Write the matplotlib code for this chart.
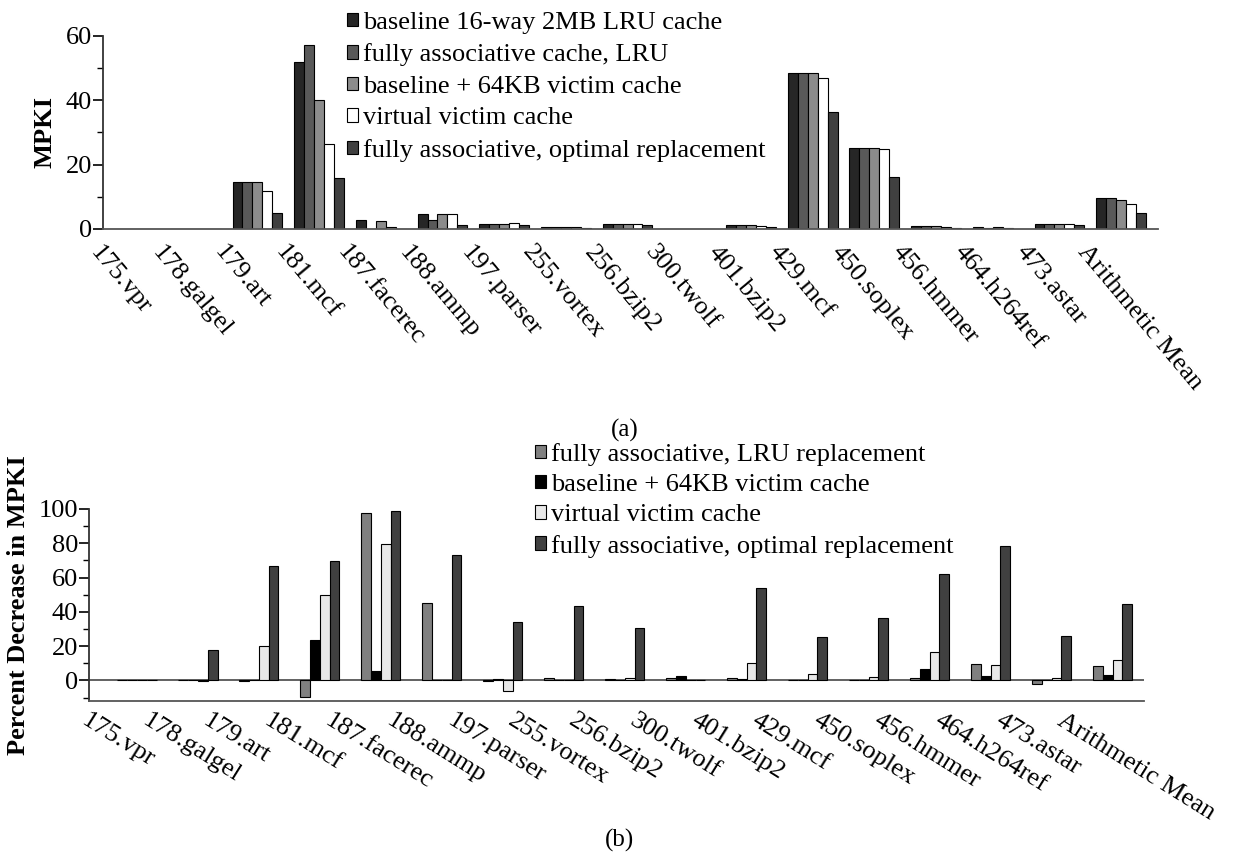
import matplotlib
matplotlib.use('Agg')
import matplotlib.pyplot as plt
import numpy as np

benchmarks = ['175.vpr', '178.galgel', '179.art', '181.mcf', '187.facerec', '188.ammp',
              '197.parser', '255.vortex', '256.bzip2', '300.twolf', '401.bzip2', '429.mcf',
              '450.soplex', '456.hmmer', '464.h264ref', '473.astar', 'Arithmetic Mean']

# (a) misses per kilo-instruction
mpki_baseline = [0.1, 0.12, 14.6, 52.0, 2.7, 4.8, 1.66, 0.52, 1.66, 0.05, 1.14, 48.6, 25.3, 0.83, 0.5, 1.66, 9.76]
mpki_fa_lru = [0.1, 0.12, 14.6, 57.2, 0.07, 2.64, 1.66, 0.51, 1.65, 0.05, 1.13, 48.5, 25.3, 0.82, 0.45, 1.70, 9.76]
mpki_victim = [0.1, 0.12, 14.6, 40.1, 2.55, 4.78, 1.64, 0.52, 1.65, 0.05, 1.13, 48.4, 25.2, 0.78, 0.49, 1.65, 9.0]
mpki_virtual = [0.1, 0.12, 11.7, 26.3, 0.55, 4.8, 1.76, 0.52, 1.64, 0.05, 1.02, 46.9, 24.8, 0.69, 0.45, 1.63, 7.7]
mpki_opt = [0.1, 0.1, 4.9, 16.0, 0.03, 1.3, 1.1, 0.3, 1.15, 0.05, 0.53, 36.3, 16.2, 0.32, 0.11, 1.23, 5.1]

# (b) percent decrease in MPKI vs. baseline
pct_fa_lru = [0, 0, -0.3, -9.9, 97.6, 45.2, -0.2, 1.2, 0.6, 1.3, 1.2, 0.4, 0.1, 1.6, 9.3, -2.3, 8.4]
pct_victim = [0, 0, 0.2, 23.4, 5.5, 0.5, 1.0, 0.3, 0.4, 2.3, 1.0, 0.4, 0.4, 6.6, 2.5, 0.4, 2.9]
pct_virtual = [0, -0.3, 20.3, 49.7, 79.5, 0.3, -6.0, 0.3, 1.4, 0.4, 10.3, 3.5, 1.9, 16.6, 9.0, 1.7, 11.7]
pct_opt = [0, 17.5, 66.6, 69.4, 99.0, 72.9, 33.9, 43.2, 30.6, 0.2, 54.0, 25.3, 36.3, 61.8, 78.6, 25.9, 44.8]

labels_a = ['baseline 16-way 2MB LRU cache', 'fully associative cache, LRU',
            'baseline + 64KB victim cache', 'virtual victim cache',
            'fully associative, optimal replacement']
labels_b = ['fully associative, LRU replacement', 'baseline + 64KB victim cache',
            'virtual victim cache', 'fully associative, optimal replacement']

colors_a = ['#262626', '#595959', '#8c8c8c', '#ffffff', '#404040']
colors_b = ['#808080', '#000000', '#e8e8e8', '#404040']

plt.rcParams['font.family'] = ['Liberation Serif', 'DejaVu Serif']
FS = 19

fig = plt.figure(figsize=(12.42, 8.55), dpi=100)
x = np.arange(len(benchmarks))
w = 10 / 62


def style_axes(ax, ylim, major, minor):
    ax.set_xlim(0, len(benchmarks))
    ax.set_ylim(*ylim)
    ax.spines['top'].set_visible(False)
    ax.spines['right'].set_visible(False)
    ax.spines['left'].set_color('#333333')
    ax.spines['bottom'].set_color('#555555')
    ax.spines['left'].set_linewidth(1.3)
    ax.spines['bottom'].set_linewidth(1.3)
    ax.set_yticks(major)
    ax.set_yticks(minor, minor=True)
    ax.tick_params(axis='y', which='major', length=7, width=1.2, labelsize=FS, pad=1)
    ax.tick_params(axis='y', which='minor', length=4, width=1.0)
    ax.tick_params(axis='x', length=0)


def small_legend(ax, anchor, spacing):
    ax.legend(loc='upper left', bbox_to_anchor=anchor, bbox_transform=fig.transFigure,
              frameon=False, fontsize=FS, handlelength=0.4, handleheight=0.4,
              handletextpad=0.2, labelspacing=spacing, borderpad=0, borderaxespad=0)


# ---- (a) ----
ax1 = fig.add_axes([0.0829, 0.7322, 0.8494, 0.2257])
series_a = [mpki_baseline, mpki_fa_lru, mpki_victim, mpki_virtual, mpki_opt]
for k, (vals, col, lab) in enumerate(zip(series_a, colors_a, labels_a)):
    ax1.bar(x + k * w, vals, width=w, align='edge', color=col, edgecolor='black',
            linewidth=0.8, label=lab)
style_axes(ax1, (0, 60), [0, 20, 40, 60], [10, 30, 50])
ax1.set_xticks(x - 0.1)
ax1.set_xticklabels(benchmarks, fontsize=FS, rotation=-50, ha='left', va='top',
                    rotation_mode='anchor')
ax1.tick_params(axis='x', pad=9)
ax1.set_ylabel('MPKI', fontsize=FS, fontweight='bold')
ax1.yaxis.set_label_coords(-0.0436, 0.5)
small_legend(ax1, (347 / 1242, 1 - 12 / 855), 0.36)

# ---- (b) ----
ax2 = fig.add_axes([0.0717, 0.1801, 0.8494, 0.2246])
series_b = [pct_fa_lru, pct_victim, pct_virtual, pct_opt]
for k, (vals, col, lab) in enumerate(zip(series_b, colors_b, labels_b)):
    ax2.bar(x + (k + 1) * w, vals, width=w, align='edge', color=col, edgecolor='black',
            linewidth=0.8, label=lab)
ax2.axhline(0, color='#555555', linewidth=1.3, zorder=0.5)
style_axes(ax2, (-12, 100), [0, 20, 40, 60, 80, 100], [-10, 10, 30, 50, 70, 90])
ax2.set_xticks(x - 0.3)
ax2.set_xticklabels(benchmarks, fontsize=FS, rotation=-32, ha='left', va='top',
                    rotation_mode='anchor')
ax2.tick_params(axis='x', pad=6)
ax2.set_ylabel('Percent Decrease in MPKI', fontsize=FS, fontweight='bold')
ax2.yaxis.set_label_coords(-0.056, 0.5)
small_legend(ax2, (535 / 1242, 1 - 443 / 855), 0.31)

fig.text(625 / 1242, 1 - 430 / 855, '(a)', fontsize=FS - 1, ha='center', va='center')
fig.text(620 / 1242, 1 - 840 / 855, '(b)', fontsize=FS - 1, ha='center', va='center')

fig.savefig('out.png', dpi=100)
